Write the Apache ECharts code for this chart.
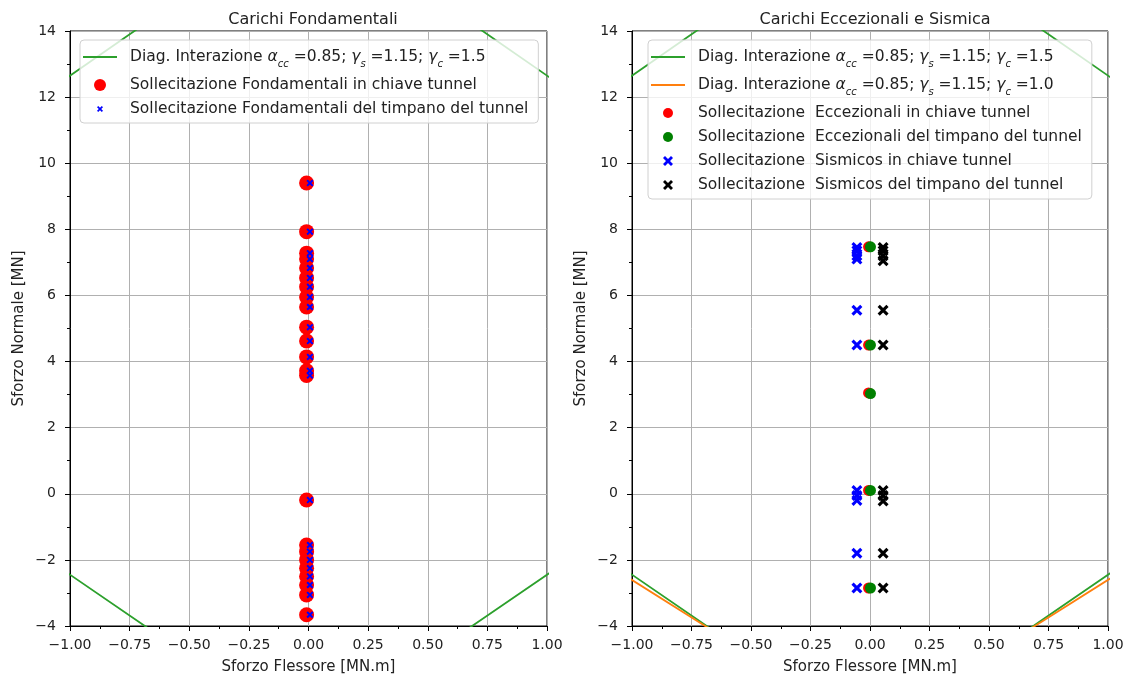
<!DOCTYPE html>
<html>
<head>
<meta charset="utf-8">
<script src="https://cdn.jsdelivr.net/npm/echarts@6/dist/echarts.min.js"></script>
<style>
html, body { margin: 0; padding: 0; background: #fff; }
#chart { width: 1136px; height: 676px; }
</style>
</head>
<body>
<div id="chart"></div>
<script>
// diagramma di interazione (M, N) - punti fuori dal riquadro vengono tagliati
var diagM = [0, -1.2, -1.2, 0, 1.2, 1.2, 0];
var diagN15 = [17.65, 11.65, -1.46, -7.39, -1.46, 11.65, 17.65];
var diagN10 = [20.5, 14.5, -1.70, -7.14, -1.70, 14.5, 20.5];

// carichi fondamentali
var fondChiaveN = [9.4, 7.93, 7.28, 7.1, 6.83, 6.53, 6.26, 5.95, 5.65, 5.04, 4.62, 4.14, 3.72, 3.58,
                   -0.19, -1.55, -1.75, -2.0, -2.25, -2.5, -2.76, -3.06, -3.66];
var fondChiaveM = [-0.008, -0.008, -0.008, -0.008, -0.008, -0.008, -0.008, -0.008, -0.008, -0.008, -0.008, -0.008,
                   -0.008, -0.008, -0.008, -0.008, -0.008, -0.008, -0.008, -0.008, -0.008, -0.008, -0.008];
var fondTimpanoN = [9.4, 7.93, 7.28, 7.1, 6.83, 6.53, 6.26, 5.95, 5.65, 5.04, 4.62, 4.14, 3.72, 3.58,
                    -0.19, -1.55, -1.75, -2.0, -2.25, -2.5, -2.76, -3.06, -3.66];
var fondTimpanoM = [0.006, 0.006, 0.006, 0.006, 0.006, 0.006, 0.006, 0.006, 0.006, 0.006, 0.006, 0.006,
                    0.006, 0.006, 0.006, 0.006, 0.006, 0.006, 0.006, 0.006, 0.006, 0.006, 0.006];

// carichi eccezionali e sismica
var eccChiaveN = [7.47, 4.5, 3.05, 0.1, -2.85];
var eccChiaveM = [-0.006, -0.006, -0.006, -0.006, -0.006];
var eccTimpanoN = [7.47, 4.5, 3.03, 0.1, -2.85];
var eccTimpanoM = [0.002, 0.002, 0.002, 0.002, 0.002];
var sisChiaveN = [7.45, 7.35, 7.2, 7.1, 5.55, 4.5, 0.1, -0.05, -0.2, -1.8, -2.85];
var sisChiaveM = [-0.055, -0.055, -0.055, -0.055, -0.055, -0.055, -0.055, -0.055, -0.055, -0.055, -0.055];
var sisTimpanoN = [7.45, 7.35, 7.2, 7.05, 5.55, 4.5, 0.1, -0.05, -0.22, -1.8, -2.85];
var sisTimpanoM = [0.055, 0.055, 0.055, 0.055, 0.055, 0.055, 0.055, 0.055, 0.055, 0.055, 0.055];

var nDiag15 = 'Diag. Interazione acc =0.85; ys =1.15; yc =1.5';
var nDiag10 = 'Diag. Interazione acc =0.85; ys =1.15; yc =1.0';
var nFondC = 'Sollecitazione Fondamentali in chiave tunnel';
var nFondT = 'Sollecitazione Fondamentali del timpano del tunnel';
var nEccC = 'Sollecitazione  Eccezionali in chiave tunnel';
var nEccT = 'Sollecitazione  Eccezionali del timpano del tunnel';
var nSisC = 'Sollecitazione  Sismicos in chiave tunnel';
var nSisT = 'Sollecitazione  Sismicos del timpano del tunnel';

var FONT = 'DejaVu Sans';
var TXT = '#222';
var xPath = 'M0,2 L2,0 L5,3 L8,0 L10,2 L7,5 L10,8 L8,10 L5,7 L2,10 L0,8 L3,5 Z';
var xSym = 'path://' + xPath;
var xSymSmall = 'path://M-5,-5 M15,15 ' + xPath;
var xSymMid = 'path://M-1,-1 M11,11 ' + xPath;
var lineIcon = 'path://M0,0 L34,0 L34,2 L0,2 Z';
var dotSmall = 'path://M-1,-1 M11,11 M0,5 A5,5 0 1,1 10,5 A5,5 0 1,1 0,5 Z';

function pairs(ms, ns) {
    var out = [];
    for (var i = 0; i < ns.length; i++) out.push([ms[i], ns[i]]);
    return out;
}

function minus(s) { return String(s).replace('-', '\u2212'); }

function mathLabel(gc) {
    return '{f|Diag. Interazione }{i|\u03b1}{s|cc}{n| =0.85; }{i|\u03b3}{s|s}{n| =1.15; }{i|\u03b3}{s|c}{n| =' + gc + '}';
}

var legendRich = {
    f: { fontFamily: FONT, fontSize: 15.5, color: TXT, lineHeight: 24, padding: [0, 0, 0, 8] },
    n: { fontFamily: FONT, fontSize: 15.5, color: TXT, lineHeight: 24 },
    i: { fontFamily: FONT, fontSize: 15.5, color: TXT, fontStyle: 'italic', lineHeight: 24 },
    s: { fontFamily: FONT, fontSize: 10, color: TXT, fontStyle: 'italic', lineHeight: 16, verticalAlign: 'bottom' },
    t: { fontFamily: FONT, fontSize: 15.5, color: TXT, lineHeight: 19, padding: [0, 0, 0, 8] }
};

function legendFmt(name) {
    if (name === nDiag15) return mathLabel('1.5');
    if (name === nDiag10) return mathLabel('1.0');
    return '{t|' + name + '}';
}

function xAxisOf(gi) {
    return {
        type: 'value', gridIndex: gi, min: -1, max: 1, interval: 0.25,
        name: 'Sforzo Flessore [MN.m]', nameLocation: 'middle', nameGap: 34,
        nameTextStyle: { fontFamily: FONT, fontSize: 15, color: TXT },
        axisLine: { onZero: false, lineStyle: { color: '#000', width: 1 } },
        axisTick: { show: true, length: 5, lineStyle: { color: '#000' } },
        minorTick: { show: true, splitNumber: 2, length: 3, lineStyle: { color: '#000' } },
        axisLabel: { fontFamily: FONT, fontSize: 14, color: TXT, margin: 12,
            formatter: function (v) { return minus(v.toFixed(2)); } },
        splitLine: { show: true, lineStyle: { color: '#b0b0b0', width: 1 } }
    };
}

function yAxisOf(gi) {
    return {
        type: 'value', gridIndex: gi, min: -4, max: 14, interval: 2,
        name: 'Sforzo Normale [MN]', nameLocation: 'middle', nameGap: 43,
        nameTextStyle: { fontFamily: FONT, fontSize: 15, color: TXT },
        axisLine: { onZero: false, lineStyle: { color: '#000', width: 1 } },
        axisTick: { show: true, length: 5, lineStyle: { color: '#000' } },
        minorTick: { show: true, splitNumber: 2, length: 3, lineStyle: { color: '#000' } },
        axisLabel: { fontFamily: FONT, fontSize: 14, color: TXT, margin: 14,
            formatter: function (v) { return minus(v); } },
        splitLine: { show: true, lineStyle: { color: '#b0b0b0', width: 1 } }
    };
}

function diagLine(name, gi, ns, color) {
    return {
        type: 'line', name: name, xAxisIndex: gi, yAxisIndex: gi,
        data: pairs(diagM, ns), symbol: 'none', clip: true, silent: true,
        lineStyle: { color: color, width: 1.8 }, itemStyle: { color: color }
    };
}

function scatterOf(name, gi, ms, ns, symbol, size, color) {
    return {
        type: 'scatter', name: name, xAxisIndex: gi, yAxisIndex: gi,
        data: pairs(ms, ns), symbol: symbol, symbolSize: size,
        itemStyle: { color: color, opacity: 1 }
    };
}

function legendOf(items, left) {
    return {
        data: items, left: left, top: 40, orient: 'vertical',
        itemWidth: 34, itemHeight: 12, itemGap: 8, padding: [9, 10, 6, 3],
        backgroundColor: 'rgba(255,255,255,0.8)', borderColor: '#d0d0d0', borderWidth: 1, borderRadius: 4,
        formatter: legendFmt, textStyle: { rich: legendRich }
    };
}

var chart = echarts.init(document.getElementById('chart'));
chart.setOption({
    backgroundColor: '#fff',
    animation: false,
    title: [
        { text: 'Carichi Fondamentali', left: 308, top: 7, textAlign: 'center',
          textStyle: { fontFamily: FONT, fontSize: 16, fontWeight: 'normal', color: TXT } },
        { text: 'Carichi Eccezionali e Sismica', left: 870, top: 7, textAlign: 'center',
          textStyle: { fontFamily: FONT, fontSize: 16, fontWeight: 'normal', color: TXT } }
    ],
    legend: [
        legendOf([{ name: nDiag15, icon: lineIcon }, nFondC, { name: nFondT, icon: xSymSmall }], 80),
        legendOf([{ name: nDiag15, icon: lineIcon }, { name: nDiag10, icon: lineIcon },
                  { name: nEccC, icon: dotSmall }, { name: nEccT, icon: dotSmall },
                  { name: nSisC, icon: xSymMid }, { name: nSisT, icon: xSymMid }], 648)
    ],
    grid: [
        { left: 70, top: 31, width: 477, height: 595, show: true, borderColor: '#000', borderWidth: 1,
          backgroundColor: 'transparent', containLabel: false, outerBoundsMode: 'none' },
        { left: 632, top: 31, width: 476, height: 595, show: true, borderColor: '#000', borderWidth: 1,
          backgroundColor: 'transparent', containLabel: false, outerBoundsMode: 'none' }
    ],
    xAxis: [xAxisOf(0), xAxisOf(1)],
    yAxis: [yAxisOf(0), yAxisOf(1)],
    series: [
        diagLine(nDiag15, 0, diagN15, '#2ca02c'),
        scatterOf(nFondC, 0, fondChiaveM, fondChiaveN, 'circle', 15, '#ff0000'),
        scatterOf(nFondT, 0, fondTimpanoM, fondTimpanoN, xSym, 7, '#0000ff'),
        diagLine(nDiag15, 1, diagN15, '#2ca02c'),
        diagLine(nDiag10, 1, diagN10, '#ff7f0e'),
        scatterOf(nEccC, 1, eccChiaveM, eccChiaveN, 'circle', 11, '#ff0000'),
        scatterOf(nEccT, 1, eccTimpanoM, eccTimpanoN, 'circle', 11, '#008000'),
        scatterOf(nSisC, 1, sisChiaveM, sisChiaveN, xSym, 11, '#0000ff'),
        scatterOf(nSisT, 1, sisTimpanoM, sisTimpanoN, xSym, 11, '#000000')
    ]
});
</script>
</body>
</html>
